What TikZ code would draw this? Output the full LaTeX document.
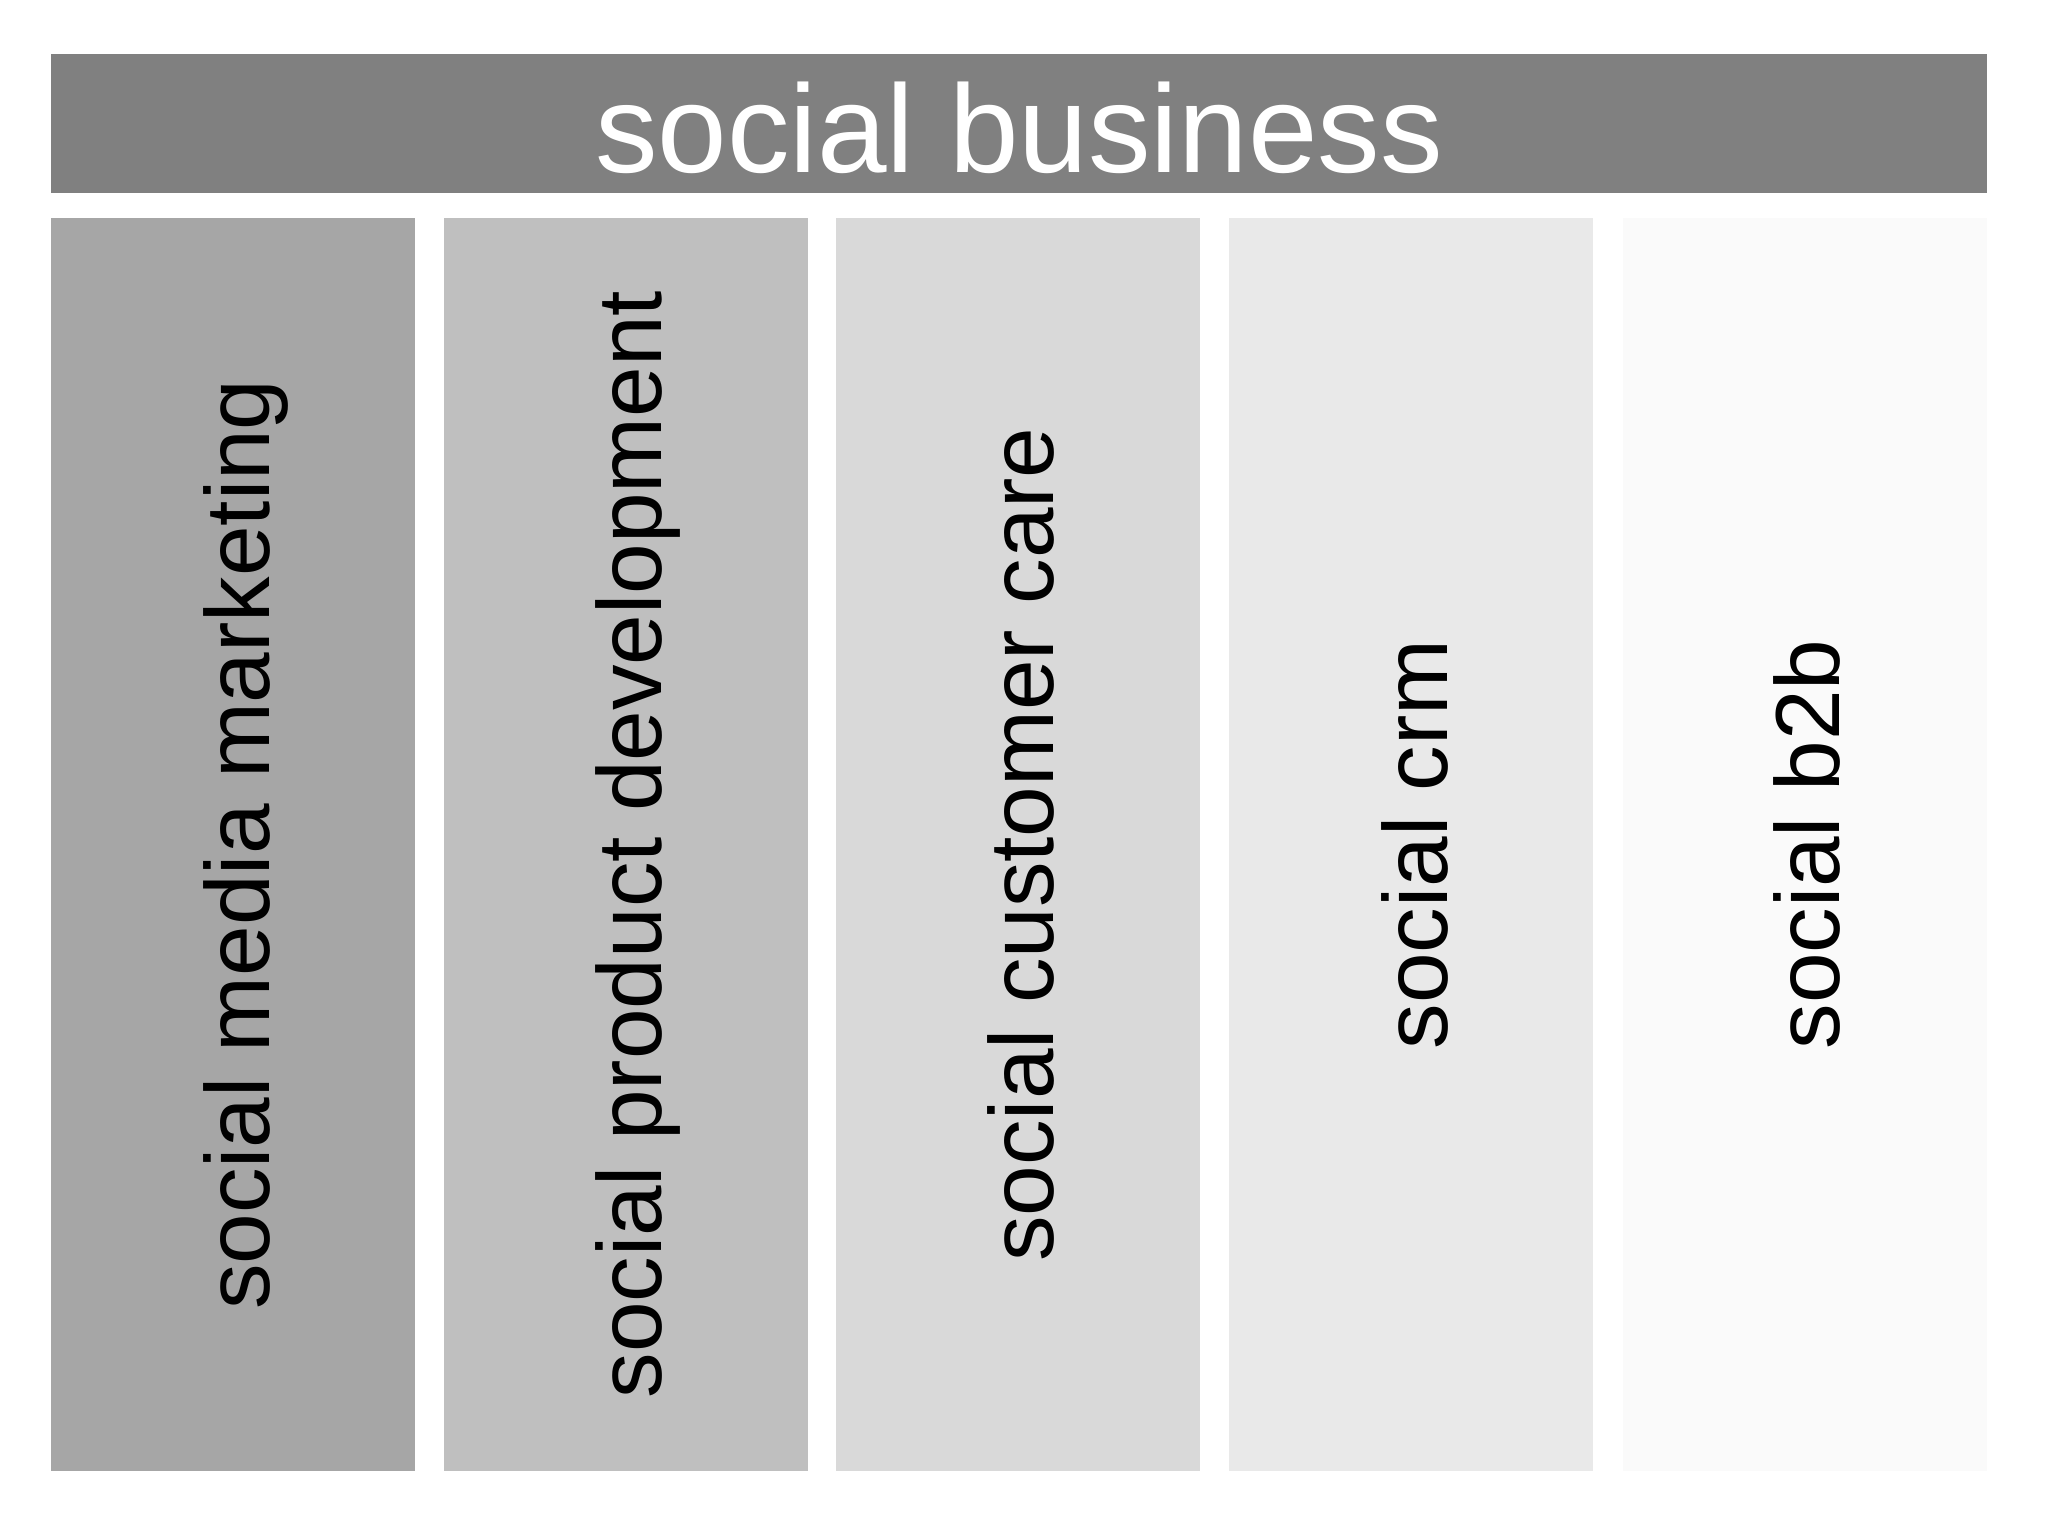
\documentclass[tikz,border=0pt]{standalone}
\usepackage{fontspec}
\setmainfont{Liberation Sans}
\definecolor{barcol}{HTML}{808080}
\definecolor{cola}{HTML}{A6A6A6}
\definecolor{colb}{HTML}{BFBFBF}
\definecolor{colc}{HTML}{D9D9D9}
\definecolor{cold}{HTML}{E9E9E9}
\definecolor{cole}{HTML}{FAFAFA}
\tikzset{
  colbox/.style={rectangle, inner sep=0pt, outer sep=0pt, draw=none,
    minimum width=182pt, minimum height=626.5pt},
  barbox/.style={rectangle, inner sep=0pt, outer sep=0pt, draw=none, fill=barcol,
    minimum width=968pt, minimum height=69.5pt},
  coltext/.style={rotate=90, anchor=base, inner sep=0pt, text=black,
    font=\fontsize{45.5}{50}\selectfont},
  titletext/.style={anchor=base, inner sep=0pt, text=white,
    font=\fontsize{62.5}{70}\selectfont}
}
\begin{document}
\begin{tikzpicture}[x=0.5pt, y=-0.5pt]
\useasboundingbox[fill=white] (0,0) rectangle (2048,1536);
\node[barbox] (bar) at (1019,123.5) {};
\node[titletext] (title) at (1019,172) {social business};
\node[colbox, fill=cola] (c1) at (233,844.5) {};
\node[colbox, fill=colb] (c2) at (626,844.5) {};
\node[colbox, fill=colc] (c3) at (1018,844.5) {};
\node[colbox, fill=cold] (c4) at (1411,844.5) {};
\node[colbox, fill=cole] (c5) at (1804.5,844.5) {};
\node[coltext] (t1) at (269,844.5) {social media marketing};
\node[coltext] (t2) at (661,844.5) {social product development};
\node[coltext] (t3) at (1053,844.5) {social customer care};
\node[coltext] (t4) at (1447,844.5) {social crm};
\node[coltext] (t5) at (1839,844.5) {social b2b};
\end{tikzpicture}
\end{document}
